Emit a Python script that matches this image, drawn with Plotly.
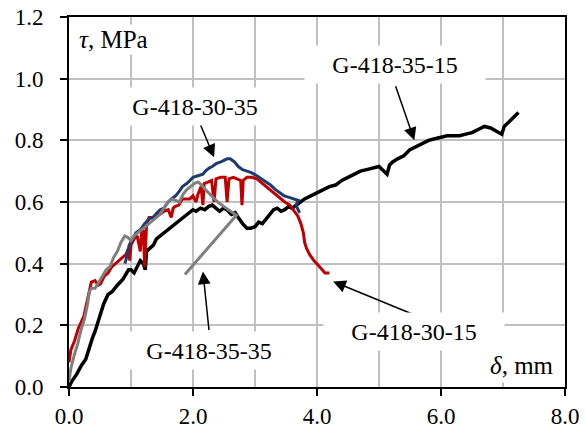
import plotly.graph_objects as go

# G-418-35-15 (black)
bk_x = [0, 0.05, 0.12, 0.2, 0.27, 0.33, 0.38, 0.42, 0.47, 0.51, 0.56, 0.63, 0.7, 0.78, 0.87, 0.96,
        1.0, 1.05, 1.1, 1.15, 1.2, 1.23, 1.25, 1.3, 1.36, 1.41, 1.47, 1.53, 1.6, 1.66, 1.71, 1.78,
        1.84, 1.89, 1.95, 2.0, 2.05, 2.12, 2.19, 2.25, 2.31, 2.37, 2.43, 2.49, 2.55, 2.62, 2.68,
        2.73, 2.8, 2.87, 2.93, 3.0, 3.06, 3.12, 3.18, 3.24, 3.3, 3.36, 3.42, 3.48, 3.54, 3.6, 3.66,
        3.72, 3.8, 3.9, 4.0, 4.1, 4.2, 4.3, 4.4, 4.5, 4.6, 4.7, 4.8, 4.9, 5.0, 5.08, 5.13, 5.17,
        5.22, 5.3, 5.4, 5.5, 5.6, 5.7, 5.8, 5.9, 6.0, 6.1, 6.2, 6.3, 6.4, 6.5, 6.6, 6.7, 6.8, 6.9,
        6.98, 7.02, 7.1, 7.18, 7.25]
bk_y = [0, 0.02, 0.04, 0.07, 0.09, 0.13, 0.16, 0.18, 0.21, 0.24, 0.27, 0.30, 0.31, 0.33, 0.35, 0.38,
        0.38, 0.37, 0.39, 0.41, 0.40, 0.38, 0.44, 0.45, 0.46, 0.48, 0.49, 0.50, 0.51, 0.52, 0.53, 0.54,
        0.55, 0.56, 0.57, 0.575, 0.57, 0.58, 0.575, 0.585, 0.59, 0.58, 0.57, 0.58, 0.575, 0.56, 0.565,
        0.55, 0.53, 0.515, 0.515, 0.52, 0.535, 0.53, 0.545, 0.56, 0.575, 0.58, 0.57, 0.575, 0.585, 0.58, 0.59,
        0.60, 0.61, 0.62, 0.63, 0.64, 0.65, 0.655, 0.67, 0.68, 0.69, 0.70, 0.705, 0.71, 0.715, 0.70, 0.69, 0.72,
        0.73, 0.74, 0.75, 0.77, 0.78, 0.79, 0.80, 0.805, 0.81, 0.815, 0.815, 0.815, 0.82, 0.825, 0.835, 0.845, 0.84, 0.83,
        0.82, 0.845, 0.86, 0.875, 0.89]

# G-418-30-15 (red)
rd_x = [0, 0.03, 0.09, 0.15, 0.24, 0.3, 0.33, 0.36, 0.42, 0.47, 0.51, 0.57, 0.63, 0.69, 0.75, 0.81,
        0.87, 0.92, 0.96, 0.98, 1.0, 1.05, 1.1, 1.15, 1.17, 1.2, 1.22, 1.25, 1.29, 1.35, 1.41, 1.47,
        1.53, 1.6, 1.65, 1.68, 1.71, 1.77, 1.83, 1.9, 1.95, 2.0, 2.05, 2.08, 2.13, 2.16, 2.18, 2.25,
        2.3, 2.34, 2.37, 2.45, 2.52, 2.55, 2.58, 2.65, 2.72, 2.77, 2.79, 2.81, 2.87, 2.95, 3.03, 3.12,
        3.21, 3.3, 3.39, 3.48, 3.56, 3.63, 3.69, 3.74, 3.78, 3.8, 3.83, 3.88, 3.95, 4.02, 4.08, 4.13, 4.2]
rd_y = [0.08, 0.12, 0.15, 0.19, 0.23, 0.28, 0.31, 0.34, 0.345, 0.33, 0.335, 0.36, 0.37, 0.39, 0.40, 0.41,
        0.42, 0.43, 0.45, 0.41, 0.46, 0.48, 0.49, 0.44, 0.50, 0.51, 0.39, 0.52, 0.55, 0.55, 0.56, 0.56,
        0.57, 0.575, 0.55, 0.58, 0.585, 0.59, 0.61, 0.61, 0.61, 0.62, 0.60, 0.625, 0.65, 0.59, 0.66, 0.665,
        0.67, 0.60, 0.675, 0.68, 0.68, 0.60, 0.675, 0.68, 0.675, 0.67, 0.59, 0.67, 0.68, 0.68, 0.675, 0.66,
        0.645, 0.63, 0.615, 0.60, 0.59, 0.57, 0.555, 0.53, 0.50, 0.47, 0.45, 0.43, 0.41, 0.395, 0.38, 0.37, 0.37]

# G-418-30-35 (blue)
bl_x = [0.9, 0.93, 0.97, 1.02, 1.08, 1.15, 1.22, 1.29, 1.36, 1.42, 1.47, 1.53, 1.6, 1.65, 1.72, 1.78,
        1.83, 1.9, 1.95, 2.0, 2.08, 2.16, 2.2, 2.26, 2.31, 2.38, 2.45, 2.5, 2.55, 2.6, 2.67, 2.73, 2.8,
        2.87, 2.94, 3.03, 3.1, 3.18, 3.25, 3.33, 3.4, 3.47, 3.55, 3.62, 3.7, 3.66, 3.72]
bl_y = [0.40, 0.42, 0.46, 0.48, 0.50, 0.51, 0.53, 0.545, 0.55, 0.565, 0.575, 0.58, 0.60, 0.61, 0.62, 0.635,
        0.65, 0.66, 0.67, 0.68, 0.685, 0.69, 0.70, 0.71, 0.715, 0.725, 0.73, 0.735, 0.74, 0.74, 0.73, 0.715, 0.705,
        0.70, 0.695, 0.685, 0.675, 0.665, 0.655, 0.64, 0.63, 0.62, 0.615, 0.61, 0.605, 0.59, 0.565]

# G-418-35-35 (gray)
gr_x = [0, 0.03, 0.08, 0.14, 0.2, 0.25, 0.3, 0.33, 0.36, 0.42, 0.48, 0.54, 0.6, 0.66, 0.72, 0.78, 0.84,
        0.9, 0.95, 1.0, 1.05, 1.11, 1.17, 1.23, 1.29, 1.35, 1.41, 1.47, 1.53, 1.6, 1.66, 1.72, 1.78,
        1.84, 1.9, 1.96, 2.02, 2.08, 2.14, 2.2, 2.3, 2.4, 2.5, 2.6, 2.7, 1.87]
gr_y = [0.02, 0.06, 0.10, 0.14, 0.19, 0.22, 0.27, 0.31, 0.32, 0.32, 0.34, 0.36, 0.38, 0.39, 0.42, 0.44, 0.47,
        0.49, 0.485, 0.475, 0.49, 0.50, 0.51, 0.52, 0.53, 0.54, 0.55, 0.56, 0.58, 0.60, 0.61, 0.605, 0.60,
        0.625, 0.64, 0.65, 0.66, 0.665, 0.655, 0.64, 0.62, 0.60, 0.585, 0.57, 0.557, 0.365]

x_ticks = [0, 2, 4, 6, 8]
y_ticks = [0, 0.2, 0.4, 0.6, 0.8, 1.0, 1.2]

FONT = "Times New Roman, Times, Liberation Serif, Nimbus Roman, DejaVu Serif, serif"

fig = go.Figure()
fig.add_trace(go.Scatter(x=bk_x, y=bk_y, mode="lines", line=dict(color="black", width=3.5), name="G-418-35-15"))
fig.add_trace(go.Scatter(x=rd_x, y=rd_y, mode="lines", line=dict(color="#c00000", width=3), name="G-418-30-15"))
fig.add_trace(go.Scatter(x=bl_x, y=bl_y, mode="lines", line=dict(color="#1f3a6e", width=3), name="G-418-30-35"))
fig.add_trace(go.Scatter(x=gr_x, y=gr_y, mode="lines", line=dict(color="#7f7f7f", width=3), name="G-418-35-35"))

labels = [
    # text, text x, text y, arrow tail x, tail y, head x, head y
    ("G-418-35-15", 5.25, 1.045, 5.26, 0.98, 5.57, 0.80),
    ("G-418-30-35", 2.04, 0.91, 2.10, 0.86, 2.34, 0.745),
    ("G-418-35-35", 2.25, 0.12, 2.26, 0.18, 2.16, 0.375),
    ("G-418-30-15", 5.57, 0.179, 5.57, 0.234, 4.26, 0.342),
]
for txt, tx, ty, ax_, ay_, hx, hy in labels:
    fig.add_annotation(x=hx, y=hy, ax=ax_, ay=ay_, xref="x", yref="y", axref="x", ayref="y",
                       text="", showarrow=True, arrowhead=2, arrowsize=1.7, arrowwidth=1.5,
                       arrowcolor="black")
    fig.add_annotation(x=tx, y=ty, xref="x", yref="y", text=txt, showarrow=False,
                       font=dict(family=FONT, size=24, color="black"),
                       bgcolor="white", borderpad=2, width=176, height=33)

fig.add_annotation(x=0.13, y=1.127, xref="x", yref="y", text="<i>τ</i>, MPa", showarrow=False,
                   xanchor="left", font=dict(family=FONT, size=25, color="black"), bgcolor="white")
fig.add_annotation(x=7.88, y=0.071, xref="x", yref="y", text="<i>δ</i>, mm", showarrow=False,
                   xanchor="right", font=dict(family=FONT, size=25, color="black"), bgcolor="white",
                   borderpad=3)

fig.update_layout(
    width=585, height=434,
    margin=dict(l=69, r=20, t=17, b=47),
    paper_bgcolor="white", plot_bgcolor="white",
    showlegend=False,
    font=dict(family=FONT, size=23, color="black"),
)
fig.update_xaxes(range=[0, 8], tickvals=x_ticks, tickformat=".1f", automargin=False,
                 showline=True, linecolor="black", linewidth=2, mirror=True,
                 ticks="outside", ticklen=7, tickwidth=2, tickcolor="black",
                 showgrid=True, gridcolor="#c0c0c0", gridwidth=2, zeroline=False,
                 minor=dict(dtick=1, showgrid=True, gridcolor="#c0c0c0", gridwidth=2, ticks=""))
fig.update_yaxes(range=[0, 1.2], tickvals=y_ticks, tickformat=".1f", automargin=False,
                 showline=True, linecolor="black", linewidth=2, mirror=True,
                 ticks="outside", ticklen=7, tickwidth=2, tickcolor="black", ticklabelstandoff=12,
                 showgrid=True, gridcolor="#c0c0c0", gridwidth=2, zeroline=False)

fig.write_html("out.html", config={"displayModeBar": False},
               post_script="document.body.style.margin='0';document.body.style.overflow='hidden';")
